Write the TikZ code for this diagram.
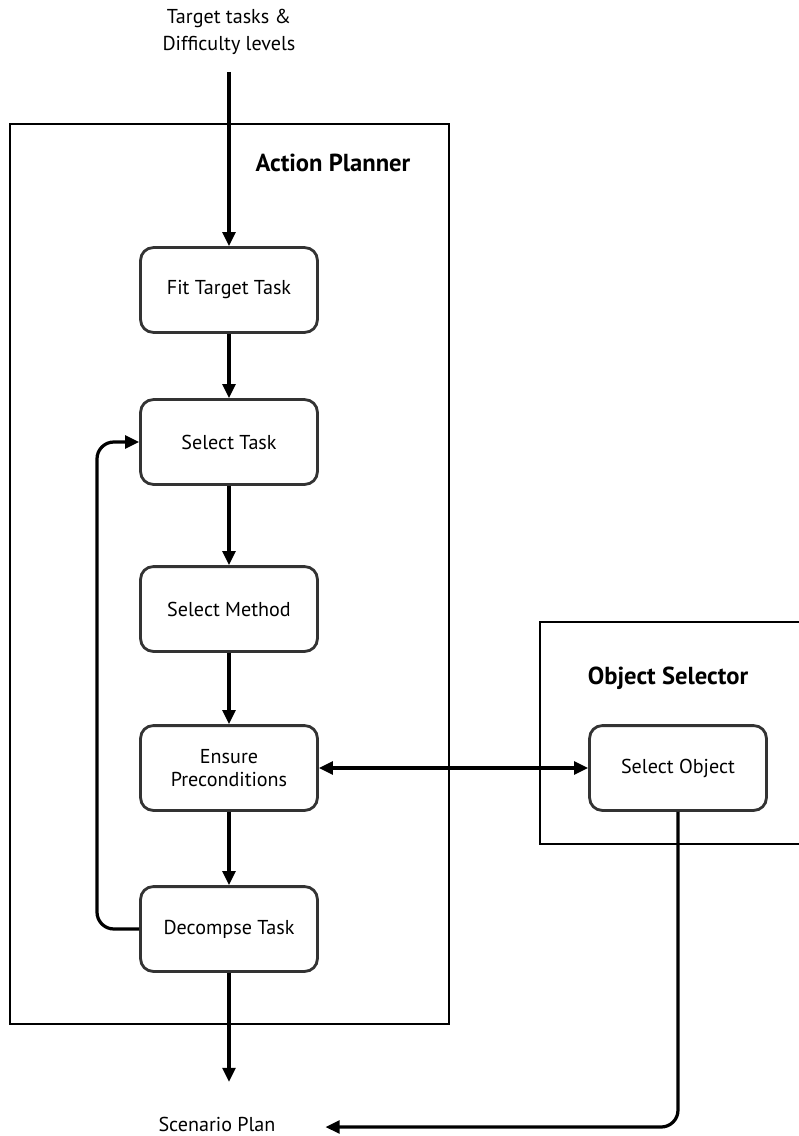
\documentclass[tikz,border=0pt]{standalone}
\usepackage{fontspec}
\setmainfont{PT Sans}
\usepackage{tikz}
\usetikzlibrary{
    calc,
    arrows.meta
}
\tikzset{
    step box/.style={draw=black!80, line width=2pt, rounded corners=9pt,
        minimum width=4.42cm, minimum height=2.12cm, align=center,
        font=\fontsize{14.3}{16.5}\selectfont},
    frame/.style={draw, line width=1pt},
    flow/.style={line width=2.3pt, -{Triangle[length=10pt,width=9pt]}},
    title/.style={font=\fontsize{17.5}{20}\selectfont\bfseries},
    plain/.style={font=\fontsize{14.3}{19}\selectfont, align=center}
}

\begin{document}
\begin{tikzpicture}[x=0.025cm, y=-0.025cm]
        \useasboundingbox (0,0) rectangle (798,1136);

        \draw[frame] (10,124) rectangle (449,1024);
        \draw[frame] (540,622) rectangle (820,844);
        \draw (333,163) node[title](plannertitle){Action Planner};
        \draw (668,678) node[title](selectortitle){Object Selector};

        \draw (229,32) node[plain](goal){Target tasks \&\\Difficulty levels};
        \coordinate (goalend) at (229,72);

        \draw (229,290) node[step box](fit){Fit Target Task};
        \draw (229,442) node[step box](task){Select Task};
        \draw (229,609) node[step box](method){Select Method};
        \draw (229,768) node[step box](pre){Ensure\\Preconditions};
        \draw (229,929) node[step box](decomp){Decompse Task};
        \draw (678,768) node[step box](obj){Select Object};

        \draw (217,1124) node[plain](plan){Scenario Plan};
        \coordinate (planend) at (229,1082);

        \draw[flow] (goalend) -- (fit);
        \draw[flow] (fit) -- (task);
        \draw[flow] (task) -- (method);
        \draw[flow] (method) -- (pre);
        \draw[flow] (pre) -- (decomp);
        \draw[flow] (decomp) -- (planend);

        \draw[flow, rounded corners=12pt] (decomp.west) -| (97,600) |- (task.west);
        \draw[flow, {Triangle[length=10pt,width=9pt]}-{Triangle[length=10pt,width=9pt]}] (pre) -- (obj);
        \draw[flow, rounded corners=12pt] (obj.south) |- ($(plan.east)+(45,3)$);
    \end{tikzpicture}
\end{document}
